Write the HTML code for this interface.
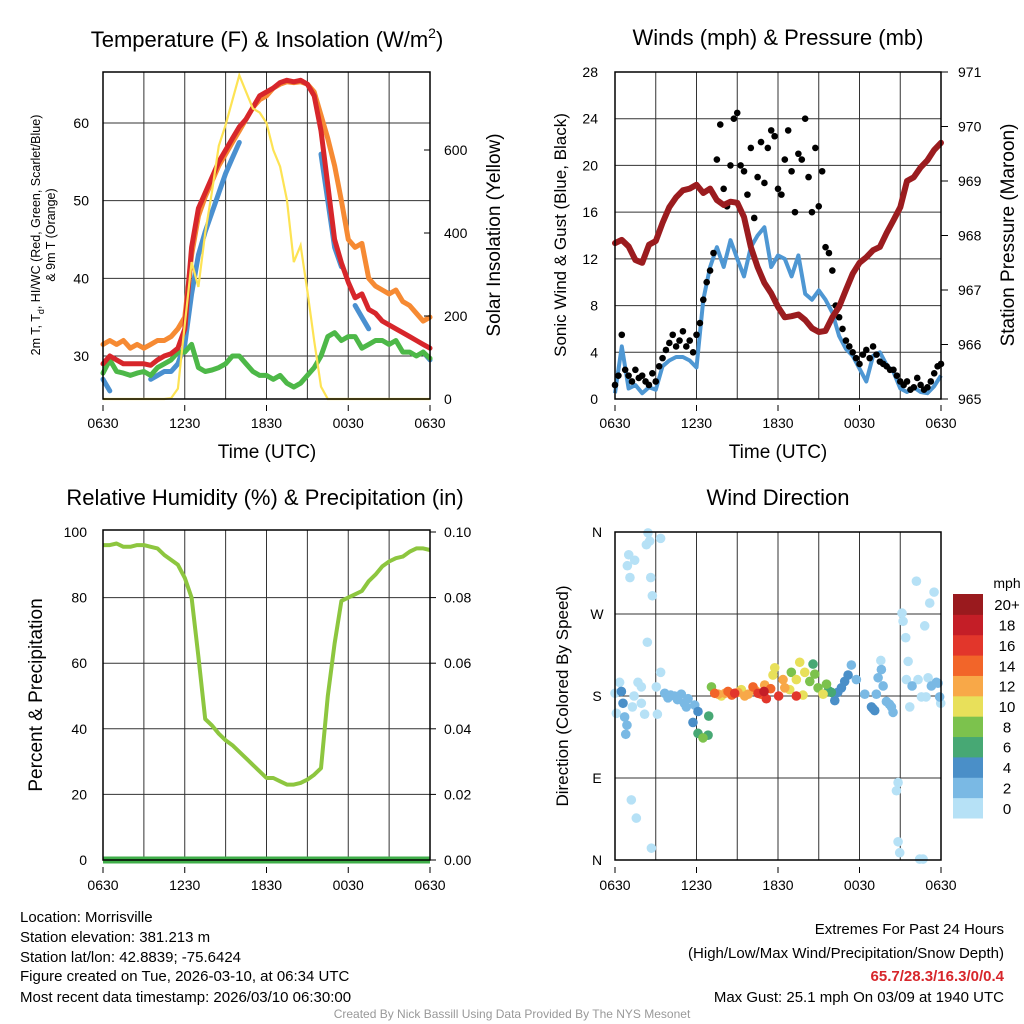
<!DOCTYPE html>
<html><head><meta charset="utf-8">
<style>
html,body{margin:0;padding:0;background:#fff;}
svg{display:block;font-family:"Liberation Sans",sans-serif;}
</style></head>
<body>
<svg id="fig" width="1024" height="1024" viewBox="0 0 1024 1024" xmlns="http://www.w3.org/2000/svg">
<rect width="1024" height="1024" fill="#fff"/>
<g id="p1"></g>
<g id="p2"></g>
<g id="p3"></g>
<g id="p4"></g>
<g font-size="15" fill="#000">
<text x="20" y="922">Location: Morrisville</text>
<text x="20" y="942">Station elevation: 381.213 m</text>
<text x="20" y="962">Station lat/lon: 42.8839; -75.6424</text>
<text x="20" y="981">Figure created on Tue, 2026-03-10, at 06:34 UTC</text>
<text x="20" y="1002">Most recent data timestamp: 2026/03/10 06:30:00</text>
</g>
<g font-size="15" text-anchor="end">
<text x="1004" y="934">Extremes For Past 24 Hours</text>
<text x="1004" y="958">(High/Low/Max Wind/Precipitation/Snow Depth)</text>
<text x="1004" y="981" fill="#d7262b" font-weight="bold">65.7/28.3/16.3/0/0.4</text>
<text x="1004" y="1002">Max Gust: 25.1 mph On 03/09 at 1940 UTC</text>
</g>
<text x="512" y="1018" font-size="12" fill="#999" text-anchor="middle">Created By Nick Bassill Using Data Provided By The NYS Mesonet</text>
</svg>
<script>
// ---- data (half-hourly, 0630 -> 0630 UTC) ----
const hoursLabels = ["0630","1230","1830","0030","0630"];
const tempRed = [29,30,29.5,29,29,29,29,28.8,29.5,30,30.3,31,33.5,44,49,51,53,55,56.5,58,59.5,60.5,62,63.5,64,64.5,65.2,65.5,65.3,65.5,65,63.5,59,52,45,42,39.5,37.5,38,36,35.5,34.5,34,33.5,33,32.5,32,31.5,31];
const temp9m = [31.5,32,31.5,32,31,31.5,31,31.5,32,32,32.5,33.5,35,43,48,50.5,52.5,54.5,56,57.5,59,60.5,62,63,63.5,64.5,65,65.3,65.2,65.3,65,64,61,58,54.5,50,45,44,44.5,40,39,38.5,38,38.5,37,36.5,35.5,34.5,35];
const dewpoint = [27.8,29.5,28,27.8,27.5,27.8,28,27.5,28.5,29,29.5,30.5,30.5,31.5,28.5,28,28.2,28.5,29,30,30,29,28,27.5,27.5,27,27.5,26.5,26,26.5,27.5,28.5,30,32.5,33,32,32.5,32.5,31,31.5,32,32,31.5,32,30.5,30.5,30,30.5,29.7];
const heatWind = [27,25.5,null,null,null,null,null,27,27.5,28,28,29,31.5,38,43,46,48.5,51,53.5,55.5,57.5,null,null,null,null,null,null,null,null,null,null,null,56,50,44,41.5,null,36.5,35,33.5,null,null,null,null,null,null,null,30.5,29.5];
const solar = [0,0,0,0,0,0,0,0,0,0,2,25,180,330,270,400,500,610,660,720,780,740,700,690,665,600,560,480,330,370,260,140,30,0,0,0,0,0,0,0,0,0,0,0,0,0,0,0,0];
const windSpeed = [0.5,4.5,0.9,1.2,0.5,1,0.8,2.8,3.3,3.6,3.6,3.3,2.7,8.5,11.3,13,11.3,13.6,12,10.5,13,14,14.7,11.3,12.3,12,10.5,12.3,9,8.5,9.3,8.5,7.4,5.4,4.3,3.7,2.6,1.5,3.7,4,2.9,2.3,0.9,0.6,1,0.6,0.5,1.1,2];
const pressure = [967.86,967.92,967.8,967.55,967.5,967.83,967.9,968.23,968.52,968.7,968.83,968.86,968.93,968.78,968.86,968.65,968.56,968.62,968.6,968.34,967.79,967.42,967.13,966.94,966.69,966.5,966.52,966.55,966.45,966.3,966.23,966.25,966.5,966.69,967.0,967.3,967.5,967.6,967.73,967.79,968.05,968.28,968.52,969.0,969.07,969.25,969.38,969.57,969.7];
// gusts every 15 min
const gusts = [1.2,2,5.5,2.5,2,1.5,2.5,1.8,2,1.5,1.2,2.2,1.5,2.8,3.5,4.2,4.8,5.5,4.5,5,5.8,4.5,5,4,5.5,6.5,8.5,10,11,12.5,20.5,23.5,18,16.5,20,24,24.5,20,19.5,17.5,21.5,15.5,19,22,18.5,21.5,23,22.5,18,17.5,20.5,23,19.5,16,21,20.5,24,19,16,21.5,16.5,19.5,13,12.5,11,8,7,6,5,4.5,4,3.5,3,3.8,4.2,3.5,4.5,3.8,3.2,3,2.8,2.5,2.5,2,1.5,1.2,1.5,0.8,1,1.8,1.2,0.8,1,1.5,2.2,2.8,3];
const rh = [96,96,96.5,95.5,95.5,96,96,95.5,95,93,91.5,90,86,80,62,43,41,38.5,36.5,35,33,31,29,27,25,25,24,23,23,23.5,24.5,26,28,50,66,79,80,81,82,85,87,89.5,91,92,92.5,94,95,95,94.5];
const precip = new Array(49).fill(0);
// wind direction obs: [hour offset, degrees, speed mph]
const dirObs = [[2.43,359,1],[3.36,353,1],[2.31,346,1],[2.55,350,1],[1.01,335,1],[1.45,329,1],[0.91,323,1],[1.1,310,1],[2.63,310,1],[2.75,290,1],[2.38,239,1],[3.36,206,1],[0.34,195,1],[1.69,195,1],[1.94,190,1],[0,183,1],[0.47,185,5],[1.4,180,1],[0.59,172,5],[0.1,161,1],[0.71,157,3],[0.88,148,3],[0.79,138,3],[1.94,172,1],[2.18,160,1],[1.28,168,1],[3.04,190,1],[3.12,160,1],[3.66,183,3],[3.9,178,3],[4.1,181,3],[4.39,180,3],[4.6,176,3],[4.88,182,3],[5.38,177,3],[5.25,168,3],[5.1,172,3],[5.87,170,3],[6.11,163,5],[5.74,151,5],[6.11,139,7],[6.48,134,9],[6.85,137,7],[6.9,158,7],[7.1,190,9],[7.34,183,15],[7.6,182,13],[7.83,180,11],[8.1,183,13],[8.32,185,15],[8.6,181,15],[8.81,183,17],[9.05,184,13],[9.3,187,11],[9.55,180,13],[9.8,182,13],[10.16,190,15],[10.35,186,13],[10.53,183,17],[10.75,182,15],[10.97,185,19],[11.14,177,17],[11.46,188,15],[11.02,192,13],[11.76,211,11],[11.63,203,11],[12.05,180,17],[12.37,198,13],[12.5,189,13],[12.98,206,9],[12.86,187,11],[13.35,198,11],[13.6,217,11],[13.97,206,11],[13.35,180,17],[13.84,181,11],[14.34,196,9],[14.58,215,7],[14.71,204,9],[14.95,189,9],[15.57,193,9],[15.32,182,11],[15.7,186,7],[15.93,184,7],[16.18,175,5],[16.4,184,5],[16.67,189,5],[16.91,196,5],[17.16,203,5],[17.4,214,3],[17.77,198,3],[18.39,182,3],[18.88,168,5],[19.0,166,5],[19.12,164,5],[19.24,182,3],[19.37,200,3],[19.61,209,3],[19.57,219,1],[19.74,191,3],[19.98,174,3],[20.2,171,3],[20.35,168,3],[20.47,162,3],[20.84,85,1],[20.72,76,1],[20.84,20,1],[20.96,8,1],[21.13,271,1],[21.21,262,1],[21.4,244,1],[21.58,218,1],[21.45,198,1],[21.87,191,3],[21.7,168,1],[22.19,306,1],[22.8,257,1],[23.17,282,1],[23.49,294,1],[22.31,198,1],[23.05,200,1],[23.29,191,3],[23.66,195,3],[23.9,179,3],[23.78,194,3],[22.56,179,1],[22.9,179,1],[23.98,172,1],[22.43,1,1],[22.68,1,1],[1.2,66,1],[1.57,46,1],[2.68,13,1]];
const speedColors = ["#b6e1f6","#7ab9e4","#4a8fc8","#47a874","#7cc24d","#e8e05a","#f8a848","#f26529","#e2362b","#c41e27","#9a1a1e"];
const speedLabels = ["0","2","4","6","8","10","12","14","16","18","20+"];

const NS="http://www.w3.org/2000/svg";
function mk(parent,tag,attrs,text){const e=document.createElementNS(NS,tag);for(const k in attrs)e.setAttribute(k,attrs[k]);if(text!==undefined)e.textContent=text;parent.appendChild(e);return e;}
function lin(d0,d1,r0,r1){return v=>r0+(v-d0)*(r1-r0)/(d1-d0);}
function pathFrom(arr,xs,ys,stepHr){let d="",pen=false;arr.forEach((v,i)=>{if(v===null){pen=false;return;}d+=(pen?"L":"M")+xs(i*stepHr).toFixed(1)+","+ys(v).toFixed(1);pen=true;});return d;}

function frame(g,L,R,T,B,hLines){
  for(let h=3;h<24;h+=3){const x=L+(R-L)*h/24;
    const gl=mk(g,"line",{x1:x,x2:x,y1:T,y2:B,stroke:"#333","stroke-width":1});
    
    }
  hLines.forEach(y=>{const gl=mk(g,"line",{x1:L,x2:R,y1:y,y2:y,stroke:"#333","stroke-width":1});
    
    });
}
function border(g,L,R,T,B){const r=mk(g,"rect",{x:L,y:T,width:R-L,height:B-T,fill:"none",stroke:"#000","stroke-width":1.5});
  
  }
function xLabels(g,L,R,y){hoursLabels.forEach((s,i)=>{const x=L+(R-L)*i/4;
  const t=mk(g,"text",{x:x,y:y,"font-size":14,"text-anchor":"middle"},s);
  
  
  const tk=mk(g,"line",{x1:x,x2:x,y1:y-23,y2:y-17,stroke:"#000"});
  
  });}
function txt(g,attrs,s,name){const t=mk(g,"text",attrs,s);return t;}

// ---------- Panel 1 ----------
(function(){
  const g=document.getElementById("p1");
  const L=103,R=430,T=72,B=399;
  const xs=lin(0,24,L,R), yT=lin(30,60,356,123), yS=lin(0,600,399,150);
  const tTicks=[30,40,50,60], sTicks=[0,200,400,600];
  frame(g,L,R,T,B,tTicks.map(yT));
  const series=[[heatWind,"#4a90d0",5,"heat-index-wind-chill-line"],[temp9m,"#f68a33",5,"9m-temperature-line"],[dewpoint,"#4db848",5,"dewpoint-line"],[tempRed,"#d7262b",5,"2m-temperature-line"]];
  series.forEach(s=>{const p=mk(g,"path",{d:pathFrom(s[0],xs,yT,0.5),fill:"none",stroke:s[1],"stroke-width":s[2],"stroke-linejoin":"round","stroke-linecap":"round"});
    
    });
  const ps=mk(g,"path",{d:pathFrom(solar,xs,yS,0.5),fill:"none",stroke:"#fde354","stroke-width":2.2});
  
  
  border(g,L,R,T,B);
  tTicks.forEach(v=>{txt(g,{x:L-14,y:yT(v)+5,"font-size":14,"text-anchor":"end"},String(v),'y-tick-label');});
  sTicks.forEach(v=>{txt(g,{x:R+14,y:yS(v)+5,"font-size":14},String(v),'y2-tick-label');
    const tk=mk(g,"line",{x1:R-6,x2:R,y1:yS(v),y2:yS(v),stroke:"#000"});
    
    });
  xLabels(g,L,R,428);
  const tt=txt(g,{x:267,y:47,"font-size":22,"text-anchor":"middle"},"",'panel-title');
  tt.innerHTML='Temperature (F) &amp; Insolation (W/m<tspan dy="-9" font-size="14">2</tspan><tspan dy="9">)</tspan>';
  txt(g,{x:267,y:458,"font-size":19,"text-anchor":"middle"},"Time (UTC)",'x-axis-title');
  const yl=txt(g,{x:0,y:0,"font-size":12.5,"text-anchor":"middle",transform:"translate(40,235) rotate(-90)"},"",'y-axis-title');
  yl.innerHTML='2m T, T<tspan dy="4" font-size="9">d</tspan><tspan dy="-4">, HI/WC (Red, Green, Scarlet/Blue)</tspan>';
  txt(g,{x:0,y:0,"font-size":12.5,"text-anchor":"middle",transform:"translate(55,235) rotate(-90)"},"& 9m T (Orange)",'y-axis-title-line2');
  txt(g,{x:0,y:0,"font-size":19,"text-anchor":"middle",transform:"translate(500,235) rotate(-90)"},"Solar Insolation (Yellow)",'y2-axis-title');
})();

// ---------- Panel 2 ----------
(function(){
  const g=document.getElementById("p2");
  const L=615,R=941,T=72,B=399;
  const xs=lin(0,24,L,R), yW=lin(0,28,399,72), yP=lin(965,971,399,72);
  const wTicks=[0,4,8,12,16,20,24,28], pTicks=[965,966,967,968,969,970,971];
  frame(g,L,R,T,B,wTicks.slice(1,7).map(yW));
  const pw=mk(g,"path",{d:pathFrom(windSpeed,xs,yW,0.5),fill:"none",stroke:"#4e97d3","stroke-width":4,"stroke-linejoin":"round"});
  
  
  gusts.forEach((v,i)=>{const c=mk(g,"circle",{cx:xs(i*0.25),cy:yW(v),r:3.3,fill:"#000"});
    
    });
  const pp=mk(g,"path",{d:pathFrom(pressure,xs,yP,0.5),fill:"none",stroke:"#9b1c1f","stroke-width":6,"stroke-linejoin":"round","stroke-linecap":"round"});
  
  
  border(g,L,R,T,B);
  wTicks.forEach(v=>{txt(g,{x:L-17,y:yW(v)+5,"font-size":14,"text-anchor":"end"},String(v),'y-tick-label');});
  pTicks.forEach(v=>{txt(g,{x:R+17,y:yP(v)+5,"font-size":14},String(v),'y2-tick-label');
    const tk=mk(g,"line",{x1:R,x2:R+7,y1:yP(v),y2:yP(v),stroke:"#000"});
    
    });
  xLabels(g,L,R,428);
  txt(g,{x:778,y:45,"font-size":22,"text-anchor":"middle"},"Winds (mph) & Pressure (mb)",'panel-title');
  txt(g,{x:778,y:458,"font-size":19,"text-anchor":"middle"},"Time (UTC)",'x-axis-title');
  txt(g,{x:0,y:0,"font-size":17,"text-anchor":"middle",transform:"translate(566,235) rotate(-90)"},"Sonic Wind & Gust (Blue, Black)",'y-axis-title');
  txt(g,{x:0,y:0,"font-size":19,"text-anchor":"middle",transform:"translate(1014,235) rotate(-90)"},"Station Pressure (Maroon)",'y2-axis-title');
})();

// ---------- Panel 3 ----------
(function(){
  const g=document.getElementById("p3");
  const L=103,R=430,T=530,B=860;
  const xs=lin(0,24,L,R), yR=lin(0,100,860,532), yPr=lin(0,0.1,860,532);
  const rTicks=[0,20,40,60,80,100], prTicks=[0,0.02,0.04,0.06,0.08,0.10];
  frame(g,L,R,T,B,rTicks.slice(1,5).map(yR));
  const pr=mk(g,"path",{d:pathFrom(rh,xs,yR,0.5),fill:"none",stroke:"#8dc63f","stroke-width":4,"stroke-linejoin":"round"});
  
  
  const pp=mk(g,"path",{d:pathFrom(precip,xs,yPr,0.5),fill:"none",stroke:"#3fae49","stroke-width":7});
  
  
  border(g,L,R,T,B);
  rTicks.forEach(v=>{txt(g,{x:L-16,y:yR(v)+5,"font-size":14,"text-anchor":"end"},String(v),'y-tick-label');});
  prTicks.forEach(v=>{txt(g,{x:R+14,y:yPr(v)+5,"font-size":14},v.toFixed(2),'y2-tick-label');
    const tk=mk(g,"line",{x1:R,x2:R+6,y1:yPr(v),y2:yPr(v),stroke:"#000"});
    
    });
  xLabels(g,L,R,890);
  txt(g,{x:265,y:505,"font-size":22,"text-anchor":"middle"},"Relative Humidity (%) & Precipitation (in)",'panel-title');
  txt(g,{x:0,y:0,"font-size":19,"text-anchor":"middle",transform:"translate(42,695) rotate(-90)"},"Percent & Precipitation",'y-axis-title');
})();

// ---------- Panel 4 ----------
(function(){
  const g=document.getElementById("p4");
  const L=615,R=941,T=532,B=860;
  const xs=lin(0,24,L,R), yD=lin(0,360,860,532);
  const dTicks=[0,90,180,270,360], dLabels=["N","E","S","W","N"];
  frame(g,L,R,T,B,dTicks.slice(1,4).map(yD));
  const order=dirObs.slice().sort((a,b)=>a[2]-b[2]);
  order.forEach(o=>{const idx=Math.min(10,Math.floor(o[2]/2));
    const c=mk(g,"circle",{cx:xs(o[0]),cy:yD(o[1]),r:4.8,fill:speedColors[idx]});
    
    });
  border(g,L,R,T,B);
  dTicks.forEach((v,i)=>{txt(g,{x:L-18,y:yD(v)+5,"font-size":14,"text-anchor":"middle"},dLabels[i],'y-tick-label');});
  xLabels(g,L,R,890);
  txt(g,{x:778,y:505,"font-size":22,"text-anchor":"middle"},"Wind Direction",'panel-title');
  txt(g,{x:0,y:0,"font-size":17,"text-anchor":"middle",transform:"translate(568,696) rotate(-90)"},"Direction (Colored By Speed)",'y-axis-title');
  // colorbar
  const cb=mk(g,"g",{});
  
  
  const h=(818-594)/11;
  speedColors.forEach((c,i)=>{const y=818-(i+1)*h;
    const r=mk(cb,"rect",{x:953,y:y,width:30,height:h+0.5,fill:c});
    
    
    txt(cb,{x:1007,y:y+h/2+6,"font-size":15,"text-anchor":"middle"},speedLabels[i],'colorbar-label');});
  txt(cb,{x:1007,y:588,"font-size":14,"text-anchor":"middle"},"mph",'colorbar-title');
})();
</script>
</body></html>
